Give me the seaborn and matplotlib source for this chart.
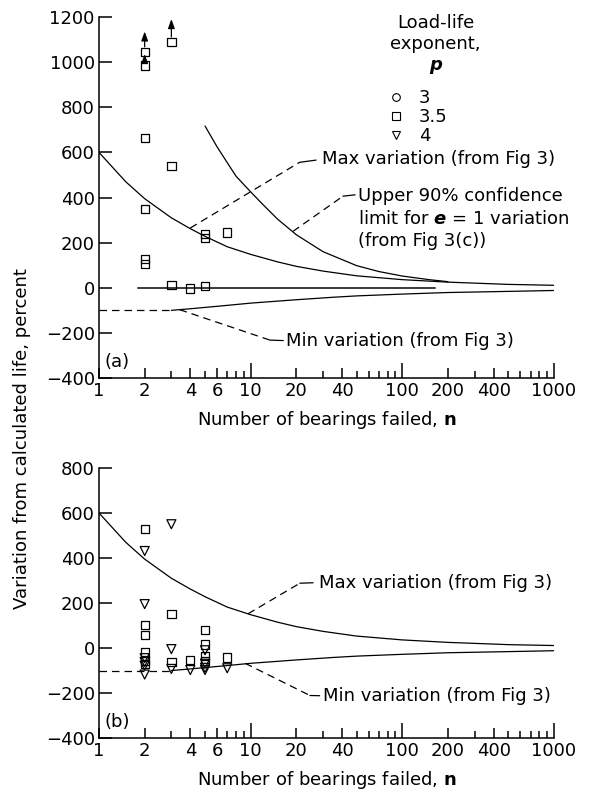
import matplotlib
matplotlib.use("Agg")
import matplotlib.pyplot as plt
import seaborn as sns
from matplotlib.lines import Line2D
from matplotlib.ticker import FixedLocator, FixedFormatter, NullFormatter

# -------------------------
# Values
# -------------------------
max_n = [1, 1.5, 2, 3, 4, 5, 7, 10, 15, 20, 30, 50, 100, 200, 500, 1000]
max_var = [600, 470, 395, 310, 262, 228, 182, 148, 115, 95, 74, 53, 36, 25, 15, 11]

upper_n = [5, 6, 7, 8, 10, 12, 15, 20, 30, 50, 70, 100, 150, 200]
upper_var = [717, 625, 555, 495, 425, 370, 305, 235, 160, 98, 72, 52, 36, 27]

min_n = [3, 4, 5, 7, 10, 20, 35, 50, 100, 200, 500, 1000]
min_var = [-100, -93, -87, -78, -68, -53, -42, -36, -28, -21, -16, -12]

floor_n = [1, 3]
floor_var = [-100, -100]

zero_n = [1.8, 165]
zero_var = [0, 0]

# panel (a): all points are p = 3.5
a_n = [2, 2, 2, 2, 2, 2, 3, 3, 3, 4, 5, 5, 5, 7]
a_var = [1045, 985, 665, 348, 128, 105, 1090, 540, 12, -3, 237, 222, 9, 245]

# run-outs shown with arrows
arrow_n = [2, 2, 3]
arrow_from = [1068, 1005, 1112]
arrow_to = [1136, 1036, 1191]

# panel (b)
b_sq_n = [2, 2, 2, 2, 2, 2, 3, 3, 4, 5, 5, 5, 5, 7]
b_sq_var = [530, 103, 58, -20, -55, -70, 150, -62, -52, 81, 16, -35, -58, -42]
b_tri_n = [2, 2, 2, 2, 2, 2, 3, 3, 3, 4, 5, 5, 5, 5, 7]
b_tri_var = [431, 195, -45, -62, -78, -118, 550, -5, -93, -98, -10, -70, -88, -98, -90]

legend_labels = ["3", "3.5", "4"]
legend_markers = ["o", "s", "v"]

x_ticks = [1, 2, 4, 6, 10, 20, 40, 100, 200, 400, 1000]
x_minor = [3, 5, 7, 8, 9, 30, 50, 60, 70, 80, 90, 300, 500, 600, 700, 800, 900]

# -------------------------
# Style
# -------------------------
sns.set_style("ticks")
plt.rcParams["font.family"] = ["DejaVu Sans"]
plt.rcParams["text.color"] = "black"
plt.rcParams["axes.labelcolor"] = "black"
plt.rcParams["axes.edgecolor"] = "black"
plt.rcParams["mathtext.fontset"] = "custom"
plt.rcParams["mathtext.rm"] = "DejaVu Sans"
plt.rcParams["mathtext.it"] = "DejaVu Sans:italic"
plt.rcParams["mathtext.bf"] = "DejaVu Sans:bold"
plt.rcParams["mathtext.sf"] = "DejaVu Sans:italic:bold"
plt.rcParams["axes.linewidth"] = 1.1

FS = 13
LW = 0.9
DASH = (0, (6, 4))

fig = plt.figure(figsize=(5.89, 7.97), dpi=100)
ax_a = fig.add_axes([0.1681, 0.5257, 0.7725, 0.4529])
ax_b = fig.add_axes([0.1681, 0.0740, 0.7725, 0.3388])


def style_axes(ax, ylim, yticks):
    ax.set_xscale("log")
    ax.set_xlim(1, 1000)
    ax.set_ylim(*ylim)
    ax.set_yticks(yticks)
    ax.xaxis.set_major_locator(FixedLocator(x_ticks))
    ax.xaxis.set_major_formatter(FixedFormatter([str(t) for t in x_ticks]))
    ax.xaxis.set_minor_locator(FixedLocator(x_minor))
    ax.xaxis.set_minor_formatter(NullFormatter())
    ax.tick_params(axis="both", which="both", direction="in", width=1.1,
                   labelsize=FS, colors="black")
    ax.tick_params(axis="y", length=9.5, pad=3)
    ax.tick_params(axis="x", which="major", length=7.2, pad=3)
    ax.tick_params(axis="x", which="minor", length=5)
    for t, v in zip(ax.xaxis.get_major_ticks(), x_ticks):
        if v in (10, 100, 1000):
            t.tick1line.set_markersize(10.8)
    sns.despine(ax=ax)
    ax.set_xlabel(r"Number of bearings failed, $\mathbf{n}$", fontsize=FS, labelpad=6)
    ax.set_ylabel("")


def leader(ax, p0, p1, p2):
    # dashed run from the curve, short solid tail to the label
    ax.plot([p0[0], p1[0]], [p0[1], p1[1]], color="black", lw=LW, ls=DASH)
    ax.plot([p1[0], p2[0]], [p1[1], p2[1]], color="black", lw=LW)


# -------------------------
# Panel (a)
# -------------------------
style_axes(ax_a, (-400, 1200), range(-400, 1201, 200))

sns.lineplot(x=max_n, y=max_var, ax=ax_a, color="black", lw=LW, estimator=None, sort=False)
sns.lineplot(x=upper_n, y=upper_var, ax=ax_a, color="black", lw=LW, estimator=None, sort=False)
sns.lineplot(x=min_n, y=min_var, ax=ax_a, color="black", lw=LW, estimator=None, sort=False)
sns.lineplot(x=floor_n, y=floor_var, ax=ax_a, color="black", lw=LW, estimator=None,
             sort=False, linestyle=DASH)
sns.lineplot(x=zero_n, y=zero_var, ax=ax_a, color="#3a3a3a", lw=1.4, estimator=None, sort=False)

sns.scatterplot(x=a_n, y=a_var, ax=ax_a, marker="s", s=36, facecolor="none",
                edgecolor="black", linewidth=0.9, zorder=3)

for n, y0, y1 in zip(arrow_n, arrow_from, arrow_to):
    ax_a.annotate("", xy=(n, y1), xytext=(n, y0),
                  arrowprops=dict(arrowstyle="-|>,head_length=0.55,head_width=0.2",
                                  color="black", lw=0.9, shrinkA=0, shrinkB=0))

leader(ax_a, (4, 265), (21, 556), (27, 566))
ax_a.text(29.5, 570, "Max variation (from Fig 3)", fontsize=FS, va="center", ha="left")

leader(ax_a, (19, 250), (40.6, 406), (48.8, 412))
ax_a.text(51, 306, "Upper 90% confidence\nlimit for $\\mathsf{e}$ = 1 variation\n(from Fig 3(c))",
          fontsize=FS, va="center", ha="left", linespacing=1.32)

leader(ax_a, (3.4, -97), (13.4, -232), (16.4, -234))
ax_a.text(17.2, -234, "Min variation (from Fig 3)", fontsize=FS, va="center", ha="left")

ax_a.text(0.012, 0.02, "(a)", transform=ax_a.transAxes, fontsize=FS, va="bottom", ha="left")

# legend block
ax_a.text(0.74, 0.922, "Load-life\nexponent,\n$\\mathsf{p}$", transform=ax_a.transAxes,
          fontsize=FS, ha="center", va="center", multialignment="center", linespacing=1.2)
handles = [Line2D([], [], ls="none", marker=m, markersize=5.5, markerfacecolor="none",
                  markeredgecolor="black", markeredgewidth=0.8) for m in legend_markers]
ax_a.legend(handles, legend_labels, loc="upper left", bbox_to_anchor=(0.64, 0.80),
            frameon=False, fontsize=FS, handlelength=0.6, handletextpad=0.98,
            labelspacing=0.05, borderpad=0, borderaxespad=0)

# -------------------------
# Panel (b)
# -------------------------
style_axes(ax_b, (-400, 800), range(-400, 801, 200))

sns.lineplot(x=max_n, y=max_var, ax=ax_b, color="black", lw=LW, estimator=None, sort=False)
sns.lineplot(x=min_n, y=min_var, ax=ax_b, color="black", lw=LW, estimator=None, sort=False)
sns.lineplot(x=floor_n, y=floor_var, ax=ax_b, color="black", lw=LW, estimator=None,
             sort=False, linestyle=DASH)

sns.scatterplot(x=b_sq_n, y=b_sq_var, ax=ax_b, marker="s", s=36, facecolor="none",
                edgecolor="black", linewidth=0.9, zorder=3)
sns.scatterplot(x=b_tri_n, y=b_tri_var, ax=ax_b, marker="v", s=42, facecolor="none",
                edgecolor="black", linewidth=0.9, zorder=3)

leader(ax_b, (9.6, 152), (21.1, 288), (25.8, 290))
ax_b.text(28.3, 290, "Max variation (from Fig 3)", fontsize=FS, va="center", ha="left")

leader(ax_b, (9.2, -68), (24.6, -211), (28.5, -212))
ax_b.text(29.8, -212, "Min variation (from Fig 3)", fontsize=FS, va="center", ha="left")

ax_b.text(0.012, 0.025, "(b)", transform=ax_b.transAxes, fontsize=FS, va="bottom", ha="left")

fig.text(0.037, 0.45, "Variation from calculated life, percent", rotation=90,
         fontsize=FS, ha="center", va="center")

fig.savefig("out.png", dpi=100)
